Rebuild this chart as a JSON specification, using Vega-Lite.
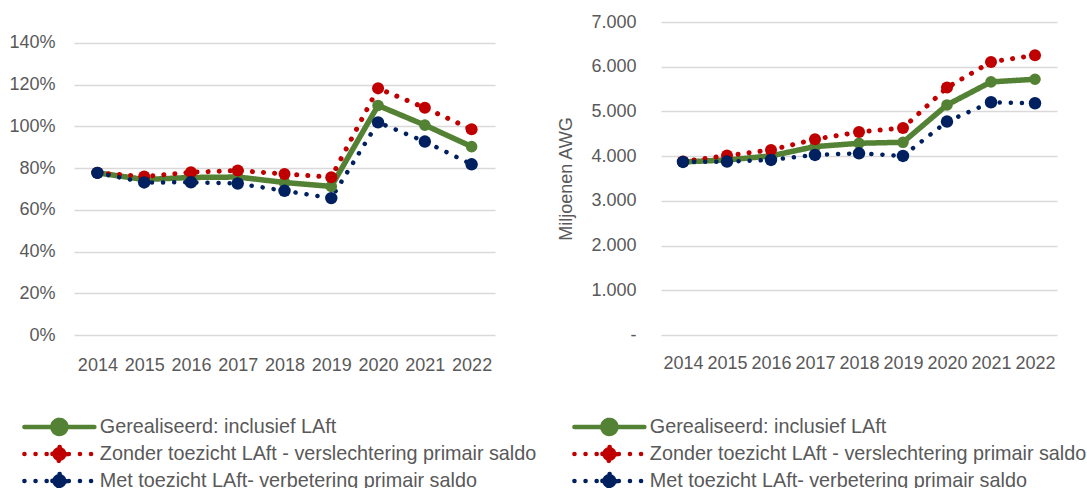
{
  "$schema": "https://vega.github.io/schema/vega-lite/v6.json",
  "background": "white",
  "padding": {"left": 8, "top": 13, "right": 0, "bottom": 0},
  "config": {
    "view": {"stroke": null},
    "font": "Liberation Sans",
    "axis": {
      "labelFont": "Liberation Sans",
      "labelFontSize": 18,
      "labelColor": "#595959",
      "titleFont": "Liberation Sans",
      "titleFontSize": 18,
      "titleFontWeight": "normal",
      "titleColor": "#595959",
      "domain": false,
      "ticks": false,
      "gridColor": "#d9d9d9",
      "gridWidth": 1.5
    },
    "legend": {
      "padding": 0,
      "rowPadding": -6,
      "labelFont": "Liberation Sans",
      "labelFontSize": 19.8,
      "labelColor": "#595959",
      "labelLimit": 600,
      "symbolSize": 196,
      "symbolType": "M-5,0L5,0M-1,0A1,1,0,1,1,1,0A1,1,0,1,1,-1,0Z",
      "symbolStrokeWidth": 4.5,
      "labelOffset": 30.5
    }
  },
  "datasets": {
    "pct": [
      {"year": "2014", "series": "Gerealiseerd: inclusief LAft", "value": 0.777},
      {"year": "2015", "series": "Gerealiseerd: inclusief LAft", "value": 0.745},
      {"year": "2016", "series": "Gerealiseerd: inclusief LAft", "value": 0.755},
      {"year": "2017", "series": "Gerealiseerd: inclusief LAft", "value": 0.757},
      {"year": "2018", "series": "Gerealiseerd: inclusief LAft", "value": 0.731},
      {"year": "2019", "series": "Gerealiseerd: inclusief LAft", "value": 0.712},
      {"year": "2020", "series": "Gerealiseerd: inclusief LAft", "value": 1.10},
      {"year": "2021", "series": "Gerealiseerd: inclusief LAft", "value": 1.006},
      {"year": "2022", "series": "Gerealiseerd: inclusief LAft", "value": 0.903},
      {"year": "2014", "series": "Zonder toezicht LAft - verslechtering primair saldo", "value": 0.777},
      {"year": "2015", "series": "Zonder toezicht LAft - verslechtering primair saldo", "value": 0.76},
      {"year": "2016", "series": "Zonder toezicht LAft - verslechtering primair saldo", "value": 0.78},
      {"year": "2017", "series": "Zonder toezicht LAft - verslechtering primair saldo", "value": 0.788},
      {"year": "2018", "series": "Zonder toezicht LAft - verslechtering primair saldo", "value": 0.772},
      {"year": "2019", "series": "Zonder toezicht LAft - verslechtering primair saldo", "value": 0.756},
      {"year": "2020", "series": "Zonder toezicht LAft - verslechtering primair saldo", "value": 1.182},
      {"year": "2021", "series": "Zonder toezicht LAft - verslechtering primair saldo", "value": 1.089},
      {"year": "2022", "series": "Zonder toezicht LAft - verslechtering primair saldo", "value": 0.986},
      {"year": "2014", "series": "Met toezicht LAft- verbetering primair saldo", "value": 0.777},
      {"year": "2015", "series": "Met toezicht LAft- verbetering primair saldo", "value": 0.731},
      {"year": "2016", "series": "Met toezicht LAft- verbetering primair saldo", "value": 0.732},
      {"year": "2017", "series": "Met toezicht LAft- verbetering primair saldo", "value": 0.726},
      {"year": "2018", "series": "Met toezicht LAft- verbetering primair saldo", "value": 0.691},
      {"year": "2019", "series": "Met toezicht LAft- verbetering primair saldo", "value": 0.656},
      {"year": "2020", "series": "Met toezicht LAft- verbetering primair saldo", "value": 1.019},
      {"year": "2021", "series": "Met toezicht LAft- verbetering primair saldo", "value": 0.927},
      {"year": "2022", "series": "Met toezicht LAft- verbetering primair saldo", "value": 0.818}
    ],
    "awg": [
      {"year": "2014", "series": "Gerealiseerd: inclusief LAft", "value": 3870},
      {"year": "2015", "series": "Gerealiseerd: inclusief LAft", "value": 3915},
      {"year": "2016", "series": "Gerealiseerd: inclusief LAft", "value": 4005},
      {"year": "2017", "series": "Gerealiseerd: inclusief LAft", "value": 4213},
      {"year": "2018", "series": "Gerealiseerd: inclusief LAft", "value": 4288},
      {"year": "2019", "series": "Gerealiseerd: inclusief LAft", "value": 4310},
      {"year": "2020", "series": "Gerealiseerd: inclusief LAft", "value": 5145},
      {"year": "2021", "series": "Gerealiseerd: inclusief LAft", "value": 5660},
      {"year": "2022", "series": "Gerealiseerd: inclusief LAft", "value": 5720},
      {"year": "2014", "series": "Zonder toezicht LAft - verslechtering primair saldo", "value": 3880},
      {"year": "2015", "series": "Zonder toezicht LAft - verslechtering primair saldo", "value": 4012},
      {"year": "2016", "series": "Zonder toezicht LAft - verslechtering primair saldo", "value": 4139},
      {"year": "2017", "series": "Zonder toezicht LAft - verslechtering primair saldo", "value": 4377},
      {"year": "2018", "series": "Zonder toezicht LAft - verslechtering primair saldo", "value": 4541},
      {"year": "2019", "series": "Zonder toezicht LAft - verslechtering primair saldo", "value": 4631},
      {"year": "2020", "series": "Zonder toezicht LAft - verslechtering primair saldo", "value": 5533},
      {"year": "2021", "series": "Zonder toezicht LAft - verslechtering primair saldo", "value": 6107},
      {"year": "2022", "series": "Zonder toezicht LAft - verslechtering primair saldo", "value": 6257},
      {"year": "2014", "series": "Met toezicht LAft- verbetering primair saldo", "value": 3870},
      {"year": "2015", "series": "Met toezicht LAft- verbetering primair saldo", "value": 3878},
      {"year": "2016", "series": "Met toezicht LAft- verbetering primair saldo", "value": 3915},
      {"year": "2017", "series": "Met toezicht LAft- verbetering primair saldo", "value": 4027},
      {"year": "2018", "series": "Met toezicht LAft- verbetering primair saldo", "value": 4064},
      {"year": "2019", "series": "Met toezicht LAft- verbetering primair saldo", "value": 4004},
      {"year": "2020", "series": "Met toezicht LAft- verbetering primair saldo", "value": 4773},
      {"year": "2021", "series": "Met toezicht LAft- verbetering primair saldo", "value": 5205},
      {"year": "2022", "series": "Met toezicht LAft- verbetering primair saldo", "value": 5183}
    ]
  },
  "bounds": "flush",
  "spacing": 166,
  "resolve": {
    "scale": {"y": "independent"},
    "legend": {"color": "independent", "strokeDash": "independent"}
  },
  "hconcat": [
    {
      "width": 421,
      "height": 313,
      "data": {"name": "pct"},
      "encoding": {
        "x": {"field": "year", "type": "ordinal", "title": null,
              "axis": {"labelAngle": 0, "labelPadding": 21, "grid": false}},
        "y": {"field": "value", "type": "quantitative", "title": null,
              "scale": {"domain": [0, 1.5]},
              "axis": {"values": [0, 0.2, 0.4, 0.6, 0.8, 1.0, 1.2, 1.4],
                       "labelExpr": "format(datum.value, '.0%')",
                       "labelPadding": 19}},
        "color": {"field": "series", "type": "nominal",
                  "scale": {"domain": ["Gerealiseerd: inclusief LAft", "Zonder toezicht LAft - verslechtering primair saldo", "Met toezicht LAft- verbetering primair saldo"],
                            "range": ["#548235", "#C00000", "#002060"]},
                  "legend": {"title": null, "orient": "none", "legendX": -24.5, "legendY": 395,
                             "encode": {"symbols": {"update": {"fill": {"scale": "color", "field": "value"}, "strokeCap": {"value": "round"}}}}}}
      },
      "layer": [
        {
          "mark": {"type": "line", "strokeCap": "round", "strokeJoin": "round"},
          "encoding": {
            "strokeDash": {"field": "series", "type": "nominal",
                           "scale": {"domain": ["Gerealiseerd: inclusief LAft", "Zonder toezicht LAft - verslechtering primair saldo", "Met toezicht LAft- verbetering primair saldo"],
                                     "range": [[1, 0], [0.1, 11], [0.1, 11]]},
                           "legend": {"title": null, "orient": "none", "legendX": -24.5, "legendY": 395}},
            "strokeWidth": {"field": "series", "type": "nominal",
                            "scale": {"domain": ["Gerealiseerd: inclusief LAft", "Zonder toezicht LAft - verslechtering primair saldo", "Met toezicht LAft- verbetering primair saldo"],
                                      "range": [5.5, 4.5, 4.5]},
                            "legend": null}
          }
        },
        {
          "mark": {"type": "point", "filled": true, "opacity": 1},
          "encoding": {
            "size": {"field": "series", "type": "nominal",
                     "scale": {"domain": ["Gerealiseerd: inclusief LAft", "Zonder toezicht LAft - verslechtering primair saldo", "Met toezicht LAft- verbetering primair saldo"],
                               "range": [135, 155, 155]},
                     "legend": null}
          }
        }
      ]
    },
    {
      "width": 396,
      "height": 313,
      "data": {"name": "awg"},
      "encoding": {
        "x": {"field": "year", "type": "ordinal", "title": null,
              "axis": {"labelAngle": 0, "labelPadding": 19, "grid": false}},
        "y": {"field": "value", "type": "quantitative", "title": "Miljoenen AWG",
              "scale": {"domain": [0, 7000]},
              "axis": {"values": [0, 1000, 2000, 3000, 4000, 5000, 6000, 7000],
                       "labelExpr": "datum.value == 0 ? '-' : replace(format(datum.value, ','), ',', '.')",
                       "labelPadding": 25, "titlePadding": 15,
                       "encode": {"labels": {"update": {"dx": {"signal": "datum.value == 0 ? -9 : 0"}}}}}},
        "color": {"field": "series", "type": "nominal",
                  "scale": {"domain": ["Gerealiseerd: inclusief LAft", "Zonder toezicht LAft - verslechtering primair saldo", "Met toezicht LAft- verbetering primair saldo"],
                            "range": ["#548235", "#C00000", "#002060"]},
                  "legend": {"title": null, "orient": "none", "legendX": -61.5, "legendY": 395,
                             "encode": {"symbols": {"update": {"fill": {"scale": "color", "field": "value"}, "strokeCap": {"value": "round"}}}}}}
      },
      "layer": [
        {
          "mark": {"type": "line", "strokeCap": "round", "strokeJoin": "round"},
          "encoding": {
            "strokeDash": {"field": "series", "type": "nominal",
                           "scale": {"domain": ["Gerealiseerd: inclusief LAft", "Zonder toezicht LAft - verslechtering primair saldo", "Met toezicht LAft- verbetering primair saldo"],
                                     "range": [[1, 0], [0.1, 11], [0.1, 11]]},
                           "legend": {"title": null, "orient": "none", "legendX": -61.5, "legendY": 395}},
            "strokeWidth": {"field": "series", "type": "nominal",
                            "scale": {"domain": ["Gerealiseerd: inclusief LAft", "Zonder toezicht LAft - verslechtering primair saldo", "Met toezicht LAft- verbetering primair saldo"],
                                      "range": [5.5, 4.5, 4.5]},
                            "legend": null}
          }
        },
        {
          "mark": {"type": "point", "filled": true, "opacity": 1},
          "encoding": {
            "size": {"field": "series", "type": "nominal",
                     "scale": {"domain": ["Gerealiseerd: inclusief LAft", "Zonder toezicht LAft - verslechtering primair saldo", "Met toezicht LAft- verbetering primair saldo"],
                               "range": [135, 155, 155]},
                     "legend": null}
          }
        }
      ]
    }
  ]
}
